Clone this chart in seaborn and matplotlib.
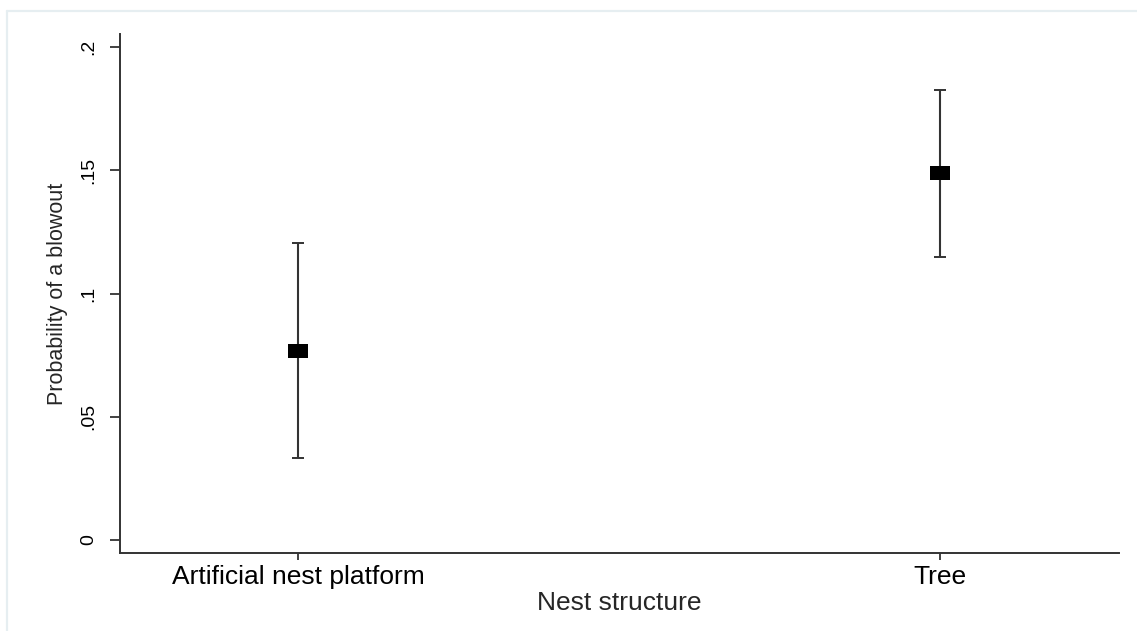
import matplotlib
matplotlib.use("Agg")
import matplotlib.pyplot as plt
from matplotlib.lines import Line2D
import seaborn as sns
import pandas as pd

# Estimated probability of a blowout by nest structure, with 95% CI
structures = ["Artificial nest platform", "Tree"]
estimates = [0.0768, 0.1491]
ci_lower = [0.0334, 0.1150]
ci_upper = [0.1207, 0.1825]
y_ticks = [0, 0.05, 0.10, 0.15, 0.20]
y_tick_labels = ["0", ".05", ".1", ".15", ".2"]

sns.set_style("white")
plt.rcParams["font.family"] = ["Liberation Sans", "DejaVu Sans"]

df = pd.DataFrame({"structure": structures, "estimate": estimates,
                   "lo": ci_lower, "hi": ci_upper})

fig = plt.figure(figsize=(11.37, 6.31), dpi=100)
ax = fig.add_axes([0.1055, 0.1236, 0.8784, 0.8225])

ink = "#333333"
# confidence intervals
ax.errorbar(x=range(len(df)), y=df["estimate"],
            yerr=[df["estimate"] - df["lo"], df["hi"] - df["estimate"]],
            fmt="none", ecolor=ink, elinewidth=1.5, capsize=4.6,
            capthick=1.4, zorder=2)
# point estimates as filled rectangles
rect = [(-1, -0.7), (1, -0.7), (1, 0.7), (-1, 0.7), (-1, -0.7)]
sns.scatterplot(data=df, x="structure", y="estimate", marker=rect, s=225,
                color="black", edgecolor="black", linewidth=0, ax=ax,
                zorder=3, legend=False)

ax.set_xlim(-0.278, 1.278)
ax.set_ylim(-0.0053, 0.2054)
ax.set_yticks(y_ticks)
ax.set_yticklabels(y_tick_labels, rotation=90, va="center")
ax.set_xticks(range(len(structures)))
ax.set_xticklabels(structures)

for side in ("top", "right"):
    ax.spines[side].set_visible(False)
for side in ("left", "bottom"):
    ax.spines[side].set_color(ink)
    ax.spines[side].set_linewidth(1.4)

ax.tick_params(axis="y", length=7.2, width=1.3, color=ink, pad=9,
               labelsize=14, labelcolor="black", left=True)
ax.tick_params(axis="x", length=5, width=1.3, color=ink, pad=3.8,
               labelsize=19, labelcolor="black", bottom=True)

ax.set_xlabel("Nest structure", fontsize=19, labelpad=1)
ax.set_ylabel("Probability of a blowout", fontsize=15.5, labelpad=9)

# faint frame along the top and left edges of the figure
frame = "#e6eef1"
fig.add_artist(Line2D([7 / 1137, 1.0], [1 - 11 / 631, 1 - 11 / 631],
                      transform=fig.transFigure, color=frame, lw=1.6))
fig.add_artist(Line2D([7 / 1137, 7 / 1137], [0.0, 1 - 11 / 631],
                      transform=fig.transFigure, color=frame, lw=1.6))

fig.savefig("out.png", dpi=100, facecolor="white")
